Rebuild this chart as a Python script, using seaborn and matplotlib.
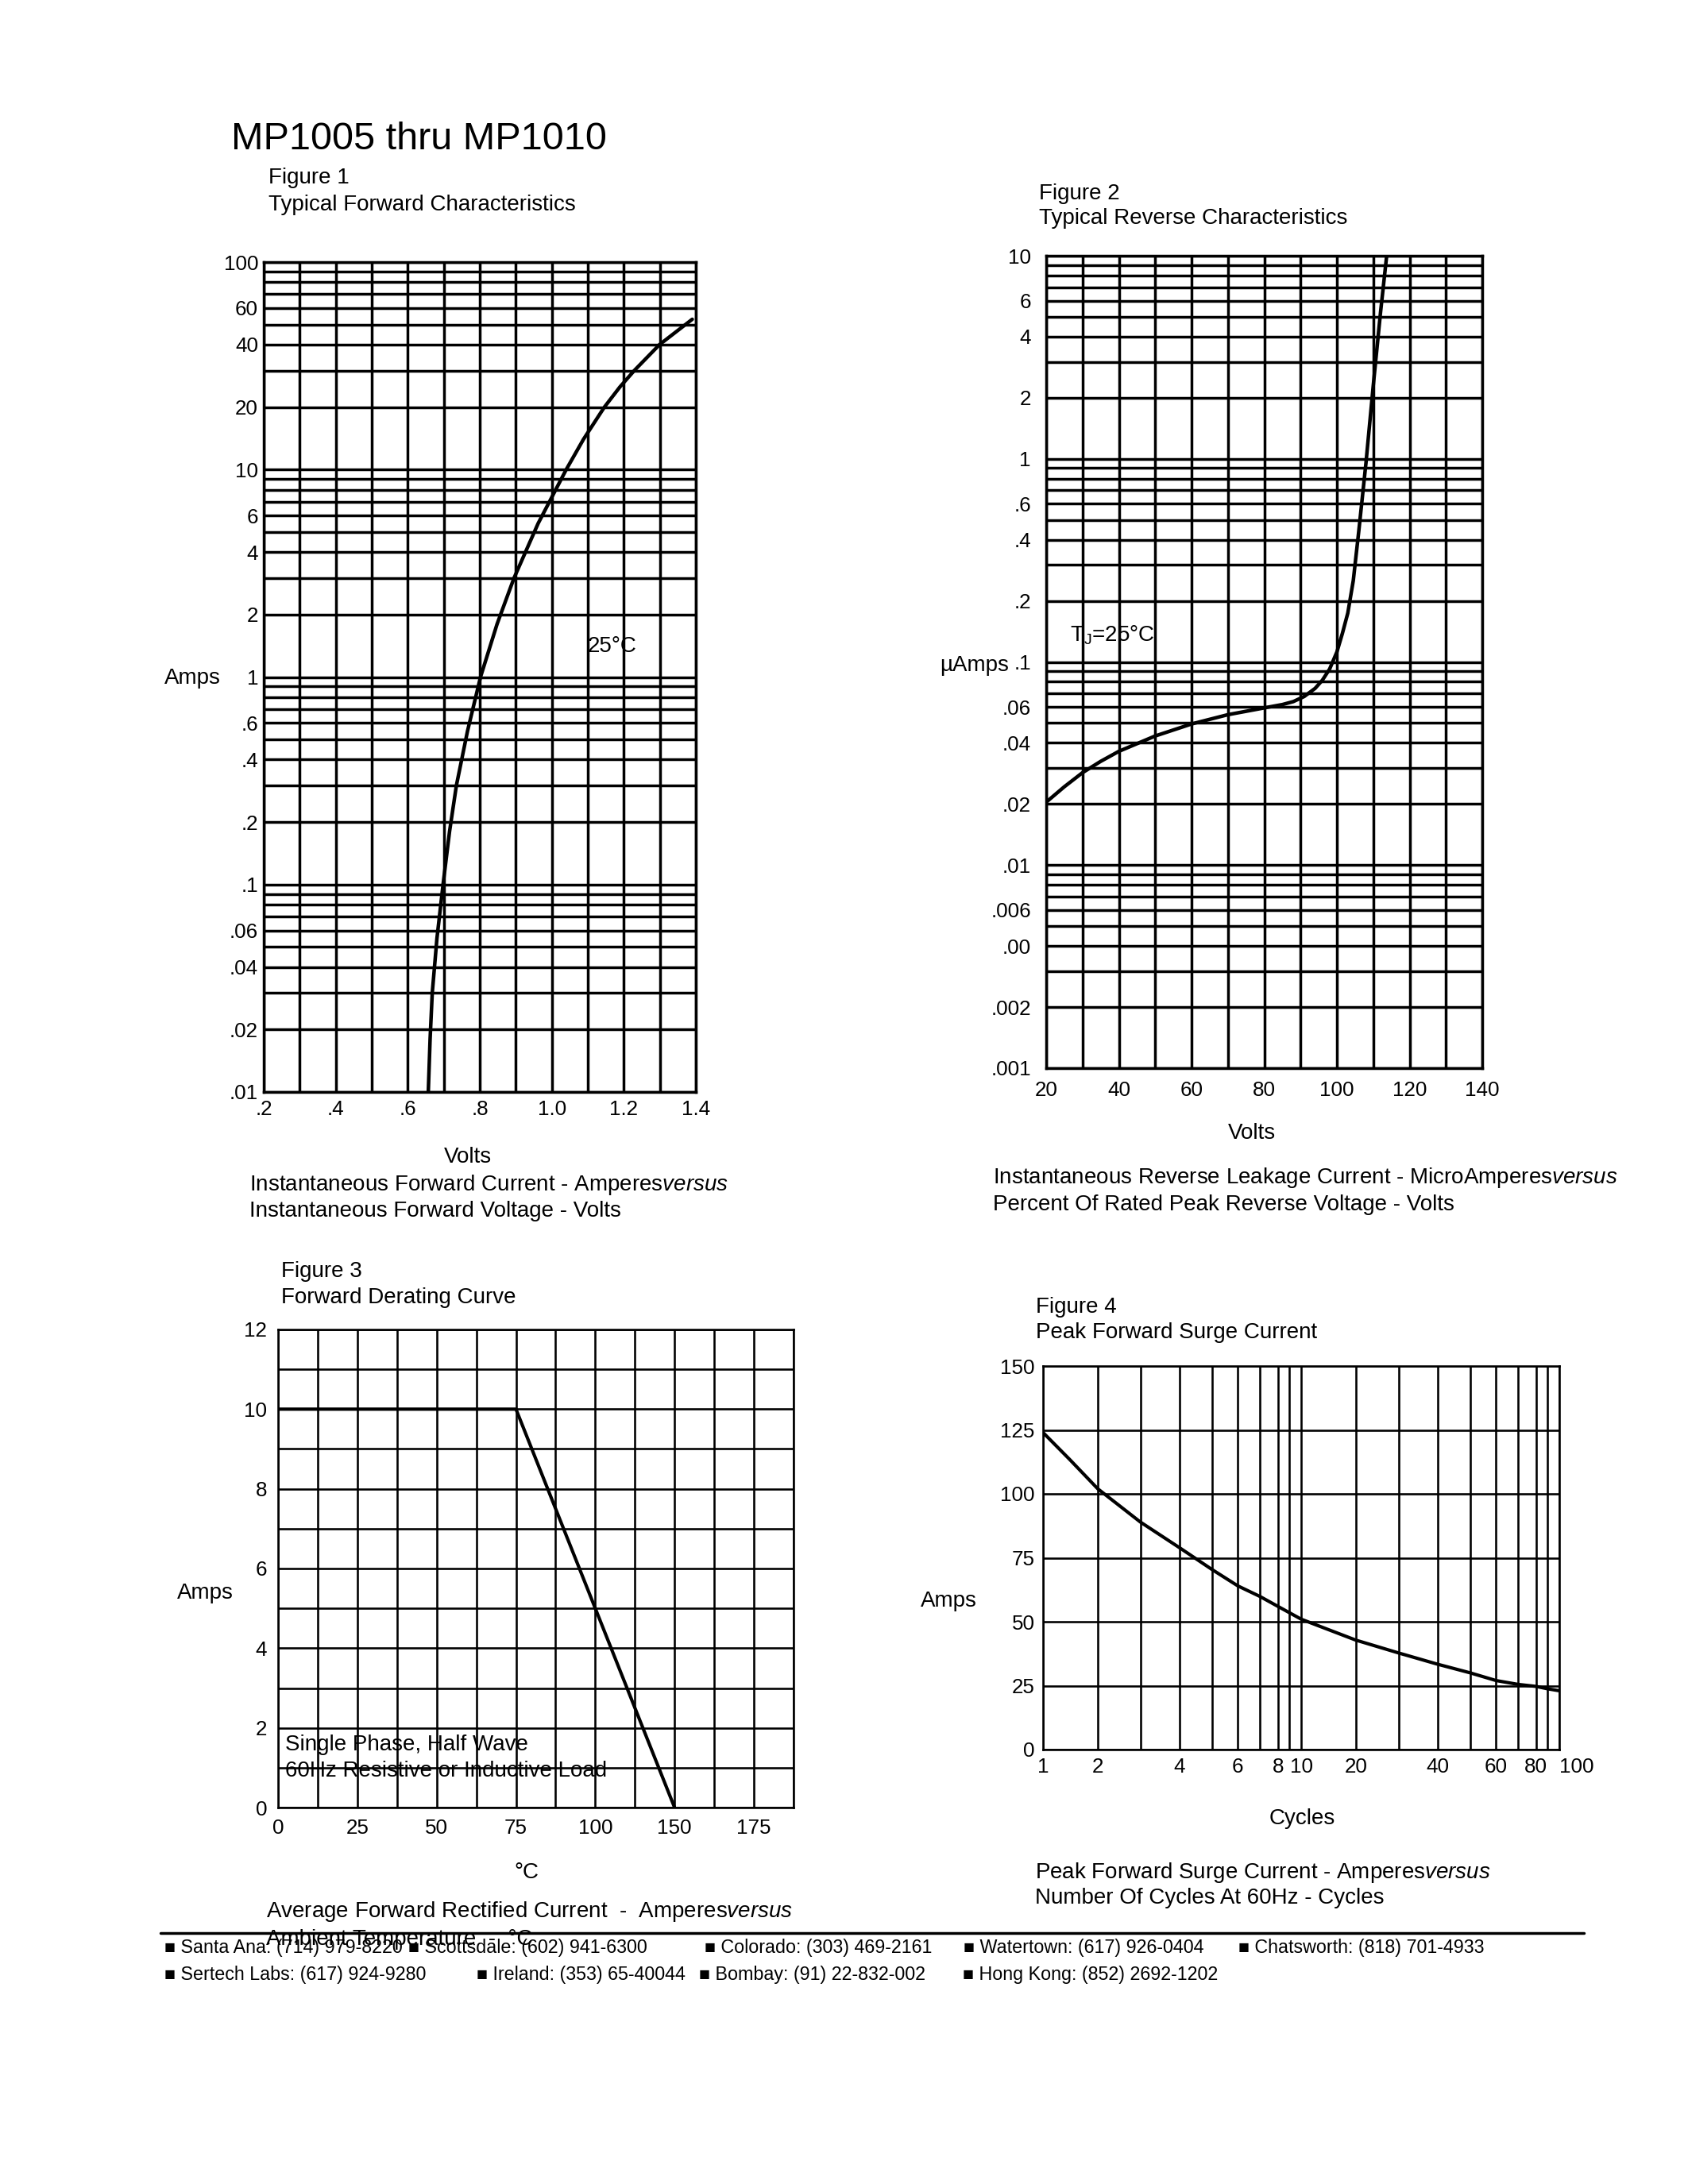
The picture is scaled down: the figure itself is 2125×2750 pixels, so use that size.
"""
MP1005 thru MP1010 datasheet page: four typical characteristic curves.
"""

import matplotlib
matplotlib.use("Agg")
import matplotlib.pyplot as plt
import seaborn as sns
import numpy as np
from matplotlib import font_manager
from matplotlib.lines import Line2D
from matplotlib.ticker import NullFormatter

# Figure 1 - forward characteristics
fwd_amps = [0.01, 0.018, 0.03, 0.055, 0.1, 0.18, 0.3, 0.55, 1.0, 1.8,
            3.0, 5.5, 10, 14, 20, 25, 30, 40, 53]
fwd_volts = [0.657, 0.662, 0.668, 0.681, 0.698, 0.716, 0.735, 0.766, 0.802, 0.848,
             0.895, 0.962, 1.040, 1.088, 1.146, 1.189, 1.229, 1.299, 1.390]
fwd_xticks = [0.2, 0.4, 0.6, 0.8, 1.0, 1.2, 1.4]
fwd_xlabels = [".2", ".4", ".6", ".8", "1.0", "1.2", "1.4"]
fwd_yticks = [0.01, 0.02, 0.04, 0.06, 0.1, 0.2, 0.4, 0.6, 1, 2, 4, 6, 10, 20, 40, 60, 100]
fwd_ylabels = [".01", ".02", ".04", ".06", ".1", ".2", ".4", ".6",
               "1", "2", "4", "6", "10", "20", "40", "60", "100"]

# Figure 2 - reverse characteristics
rev_pct = [20, 25, 30, 35, 40, 50, 60, 70, 80, 85, 88, 91, 94, 96, 98, 100,
           101.5, 103, 104.5, 106, 108, 110, 112, 113.7]
rev_uamps = [0.0204, 0.0243, 0.0285, 0.0324, 0.0363, 0.0432, 0.0495, 0.055, 0.0594, 0.0617,
             0.0638, 0.0676, 0.0741, 0.0813, 0.0923, 0.112, 0.138, 0.174, 0.251, 0.437,
             0.955, 2.29, 5.25, 10.0]
rev_xticks = [20, 40, 60, 80, 100, 120, 140]
rev_yticks = [0.001, 0.002, 0.004, 0.006, 0.01, 0.02, 0.04, 0.06, 0.1, 0.2, 0.4, 0.6, 1, 2, 4, 6, 10]
rev_ylabels = [".001", ".002", ".00", ".006", ".01", ".02", ".04", ".06", ".1", ".2",
               ".4", ".6", "1", "2", "4", "6", "10"]

# Figure 3 - derating (x is grid position, the printed scale skips 125)
derate_pos = [0, 75, 125]
derate_amps = [10, 10, 0]
derate_xticks = [0, 25, 50, 75, 100, 125, 150]
derate_xlabels = ["0", "25", "50", "75", "100", "150", "175"]
derate_yticks = [0, 2, 4, 6, 8, 10, 12]

# Figure 4 - peak forward surge current
surge_cycles = [1, 1.4, 2, 3, 4, 5, 6, 7, 8, 10, 20, 30, 40, 50, 60, 70, 80, 90, 100]
surge_amps = [124, 113.5, 102, 89, 79, 70.4, 64, 59.9, 56, 51, 42.8, 37.8, 33.4, 30,
              27, 25.5, 24.7, 23.8, 23]
surge_xticks = [1, 2, 4, 6, 8, 10, 20, 40, 60, 80, 100]
surge_yticks = [0, 25, 50, 75, 100, 125, 150]

W, H, DPI = 2125, 2750, 250
FONT = ["Liberation Sans", "DejaVu Sans"]

sns.set_theme(style="white")
plt.rcParams["font.family"] = FONT
plt.rcParams["mathtext.fontset"] = "custom"
plt.rcParams["mathtext.rm"] = "Liberation Sans"
plt.rcParams["mathtext.it"] = "Liberation Sans:italic"
plt.rcParams["text.color"] = "black"

fig = plt.figure(figsize=(W / DPI, H / DPI), dpi=DPI)
fig.patch.set_facecolor("white")


def px_axes(left, top, right, bottom):
    return fig.add_axes([left / W, 1 - bottom / H, (right - left) / W, (bottom - top) / H])


def ftext(x, y, s, size=8, ha="left", **kw):
    fig.text(x / W, 1 - y / H, s, fontsize=size, ha=ha, va="center", **kw)


def log_grid(lo, hi):
    vals = []
    e = lo
    while e < hi:
        vals += [m * 10.0 ** e for m in range(1, 10)]
        e += 1
    return vals + [10.0 ** hi]


def style(ax, lw, xpad=2, ypad=2):
    ax.tick_params(which="both", length=0, labelsize=7.5, colors="black")
    ax.tick_params(axis="x", pad=xpad)
    ax.tick_params(axis="y", pad=ypad)
    for s in ax.spines.values():
        s.set_color("black")
        s.set_linewidth(lw)
    ax.grid(True, which="both", color="black", linewidth=lw)
    ax.set_axisbelow(True)
    ax.set_xlabel("")
    ax.set_ylabel("")


# the cycle paper of figure 4 is not a true log ruling: where 1..10 sit in each decade
TRUE_FRAC = np.log10(np.arange(1, 11))
PAPER_FRAC = np.array([0, 0.212, 0.377, 0.528, 0.655, 0.755, 0.84, 0.91, 0.953, 1.0])


def paper_fwd(x):
    lx = np.log10(np.clip(np.asarray(x, float), 1e-9, None))
    dec = np.floor(lx)
    return dec + np.interp(lx - dec, TRUE_FRAC, PAPER_FRAC)


def paper_inv(y):
    y = np.asarray(y, float)
    dec = np.floor(y)
    return 10 ** (dec + np.interp(y - dec, PAPER_FRAC, TRUE_FRAC))


# page title
ftext(291, 176, "MP1005 thru MP1010", size=14)

# ---- Figure 1
ax1 = px_axes(332, 330, 876, 1375)
sns.lineplot(x=fwd_volts, y=fwd_amps, ax=ax1, color="black", lw=1.3, estimator=None, sort=False)
ax1.set_yscale("log")
ax1.set_xlim(0.2, 1.4)
ax1.set_ylim(0.01, 100)
ax1.set_xticks(fwd_xticks, labels=fwd_xlabels)
ax1.set_xticks([0.2 + 0.1 * i for i in range(13)], minor=True)
ax1.set_yticks(fwd_yticks, labels=fwd_ylabels)
ax1.set_yticks(log_grid(-2, 2), minor=True)
ax1.yaxis.set_minor_formatter(NullFormatter())
style(ax1, 1.0, xpad=3, ypad=2)
ax1.text(1.1, 1.4, "25°C", fontsize=8, ha="left", va="center")
ftext(338, 224, "Figure 1")
ftext(338, 258, "Typical Forward Characteristics")
ftext(242, 854, "Amps", ha="center")
ftext(589, 1457, "Volts", ha="center")
ftext(314, 1492, r"Instantaneous Forward Current - Amperes$\mathit{versus}$")
ftext(314, 1525, "Instantaneous Forward Voltage - Volts")

# ---- Figure 2
ax2 = px_axes(1317, 322, 1866, 1345)
sns.lineplot(x=rev_pct, y=rev_uamps, ax=ax2, color="black", lw=1.3, estimator=None, sort=False)
ax2.set_yscale("log")
ax2.set_xlim(20, 140)
ax2.set_ylim(0.001, 10)
ax2.set_xticks(rev_xticks)
ax2.set_xticks(list(range(20, 141, 10)), minor=True)
ax2.set_yticks(rev_yticks, labels=rev_ylabels)
ax2.set_yticks(log_grid(-3, 1), minor=True)
ax2.yaxis.set_minor_formatter(NullFormatter())
style(ax2, 1.0, xpad=4.5, ypad=5.5)
ax2.text(26.5, 0.135, r"T$_\mathrm{J}$=25°C", fontsize=8, ha="left", va="center")
ftext(1308, 244, "Figure 2")
ftext(1308, 275, "Typical Reverse Characteristics")
ftext(1227, 838, "µAmps", ha="center")
ftext(1576, 1427, "Volts", ha="center")
ftext(1250, 1483, r"Instantaneous Reverse Leakage Current - MicroAmperes$\mathit{versus}$")
ftext(1250, 1517, "Percent Of Rated Peak Reverse Voltage - Volts")

# ---- Figure 3
ax3 = px_axes(350, 1674, 999, 2276)
sns.lineplot(x=derate_pos, y=derate_amps, ax=ax3, color="black", lw=1.2, estimator=None, sort=False)
ax3.set_xlim(0, 162.5)
ax3.set_ylim(0, 12)
ax3.set_xticks(derate_xticks, labels=derate_xlabels)
ax3.set_xticks([12.5 * i for i in range(14)], minor=True)
ax3.set_yticks(derate_yticks)
ax3.set_yticks(list(range(13)), minor=True)
style(ax3, 0.75, xpad=4, ypad=4)
ax3.text(2.3, 1.57, "Single Phase, Half Wave", fontsize=8, ha="left", va="center")
ax3.text(2.3, 0.92, "60Hz Resistive or Inductive Load", fontsize=8, ha="left", va="center")
ftext(354, 1601, "Figure 3")
ftext(354, 1634, "Forward Derating Curve")
ftext(258, 2006, "Amps", ha="center")
ftext(663, 2358, "°C", ha="center")
ftext(335, 2407, r"Average Forward Rectified Current  -  Amperes$\mathit{versus}$")
ftext(335, 2442, "Ambient Temperature  -  °C")

# ---- Figure 4
ax4 = px_axes(1313, 1720, 1963, 2203)
ax4.set_xscale("function", functions=(paper_fwd, paper_inv))
sns.lineplot(x=surge_cycles, y=surge_amps, ax=ax4, color="black", lw=1.2, estimator=None, sort=False)
ax4.set_xlim(1, 100)
ax4.set_ylim(0, 150)
ax4.set_xticks(surge_xticks, labels=[str(v) for v in surge_xticks])
ax4.set_xticks(log_grid(0, 2), minor=True)
ax4.xaxis.set_minor_formatter(NullFormatter())
ax4.set_yticks(surge_yticks)
style(ax4, 0.75, xpad=3, ypad=3)
ax4.get_xticklabels()[-1].set_horizontalalignment("left")
ftext(1304, 1646, "Figure 4")
ftext(1304, 1678, "Peak Forward Surge Current")
ftext(1194, 2016, "Amps", ha="center")
ftext(1639, 2290, "Cycles", ha="center")
ftext(1303, 2358, r"Peak Forward Surge Current - Amperes$\mathit{versus}$")
ftext(1303, 2390, "Number Of Cycles At 60Hz - Cycles")

# ---- footer
fig.add_artist(Line2D([202 / W, 1994 / W], [1 - 2434 / H, 1 - 2434 / H],
                      color="black", lw=1.0, transform=fig.transFigure))
installed = {f.name for f in font_manager.fontManager.ttflist}
if "Liberation Sans Narrow" in installed:
    foot_font, foot_size = ["Liberation Sans Narrow", "DejaVu Sans"], 7.3
else:
    foot_font, foot_size = FONT, 6.7
footer_1 = [(207, "■ Santa Ana: (714) 979-8220"), (514, "■ Scottsdale: (602) 941-6300"),
            (887, "■ Colorado: (303) 469-2161"), (1213, "■ Watertown: (617) 926-0404"),
            (1559, "■ Chatsworth: (818) 701-4933")]
footer_2 = [(207, "■ Sertech Labs: (617) 924-9280"), (600, "■ Ireland: (353) 65-40044"),
            (880, "■ Bombay: (91) 22-832-002"), (1212, "■ Hong Kong: (852) 2692-1202")]
for x, s in footer_1:
    ftext(x, 2453, s, size=foot_size, family=foot_font)
for x, s in footer_2:
    ftext(x, 2486, s, size=foot_size, family=foot_font)

fig.savefig("out.png", dpi=DPI, facecolor="white")
